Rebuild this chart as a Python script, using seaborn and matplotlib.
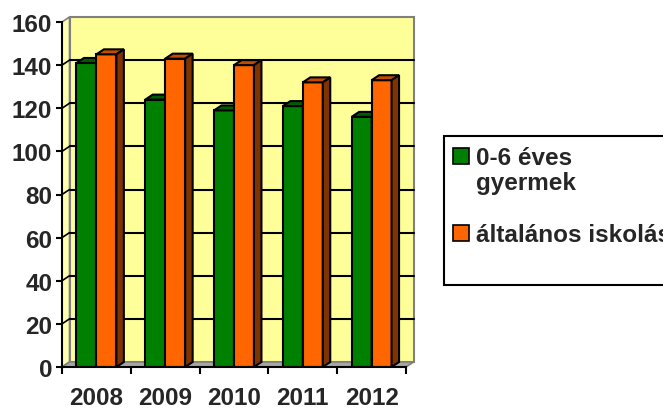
import numpy as np
import pandas as pd
import seaborn as sns
import matplotlib.pyplot as plt
from matplotlib.patches import Polygon, Rectangle

years = ['2008', '2009', '2010', '2011', '2012']
series = ['0-6 éves\ngyermek', 'általános iskolás']
gyermek = [141, 124, 119, 121, 116]
iskolas = [145, 143, 140, 132, 133]
yticks = [0, 20, 40, 60, 80, 100, 120, 140, 160]

front_cols = ['#008000', '#FF6600']
top_cols = ['#005C00', '#C04D00']
side_cols = ['#004D00', '#7F3300']

df = pd.DataFrame({
    'ev': years * 2,
    'sorozat': [series[0]] * 5 + [series[1]] * 5,
    'ertek': gyermek + iskolas,
})

sns.set_style('white')
plt.rcParams['font.family'] = ['Liberation Sans', 'DejaVu Sans']
plt.rcParams['font.weight'] = 'bold'
FS = 17.5

W, H = 663, 410
fig = plt.figure(figsize=(W / 100, H / 100), dpi=100)
L, R, B, T = 62, 406, 368, 23
ax = fig.add_axes([L / W, 1 - B / H, (R - L) / W, (B - T) / H])
ax.patch.set_visible(False)

sns.barplot(data=df, x='ev', y='ertek', hue='sorozat', palette=front_cols,
            width=0.58, edgecolor='black', linewidth=1.5, saturation=1,
            legend=False, ax=ax, zorder=3)
ax.set_xlim(-0.5, 4.5)
ax.set_ylim(0, 160)

# 3d depth offset (px -> data units)
dx = 7.5 / ((R - L) / 5.0)
dy = 5.0 / ((B - T) / 160.0)
x0, x1 = -0.5, 4.5

# back wall, side wall, floor
ax.add_patch(Rectangle((x0 + dx, dy), 5, 160, facecolor='#FFFF99',
                       edgecolor='#808080', lw=1.5, zorder=0, clip_on=False))
ax.add_patch(Polygon([(x0, 0), (x0, 160), (x0 + dx, 160 + dy), (x0 + dx, dy)],
                     facecolor='#FFFFB0', edgecolor='#808080', lw=1.2,
                     zorder=0.5, clip_on=False))
ax.add_patch(Polygon([(x0, 0), (x1, 0), (x1 + dx, dy), (x0 + dx, dy)],
                     facecolor='#A6A6A6', edgecolor='#808080', lw=1.2,
                     zorder=1, clip_on=False))
for v in yticks[1:-1]:
    ax.plot([x0 + dx, x1 + dx], [v + dy, v + dy], color='black', lw=1.5,
            zorder=0.8, clip_on=False)
    ax.plot([x0, x0 + dx], [v, v + dy], color='black', lw=1.2,
            zorder=0.8, clip_on=False)

# top and side faces of the bars
for i, bar in enumerate(ax.patches[:10]):
    k = i // 5
    x, w, h = bar.get_x(), bar.get_width(), bar.get_height()
    bar.set_zorder(3 + k)
    ax.add_patch(Polygon([(x, h), (x + w, h), (x + w + dx, h + dy), (x + dx, h + dy)],
                         facecolor=top_cols[k], edgecolor='black', lw=1.5,
                         zorder=3 + k, clip_on=False))
    ax.add_patch(Polygon([(x + w, 0), (x + w, h), (x + w + dx, h + dy), (x + w + dx, dy)],
                         facecolor=side_cols[k], edgecolor='black', lw=1.5,
                         zorder=3 + k, clip_on=False))

for s in ['top', 'right']:
    ax.spines[s].set_visible(False)
for s in ['left', 'bottom']:
    ax.spines[s].set_color('black')
    ax.spines[s].set_linewidth(1.5)
    ax.spines[s].set_zorder(6)

ax.set_yticks(yticks)
ax.set_yticklabels([str(v) for v in yticks])
ax.set_xticks(range(5))
ax.set_xticklabels(years)
ax.set_xticks(np.arange(-0.5, 5, 1), minor=True)
ax.tick_params(axis='y', direction='out', length=4, width=1.5, color='black',
               left=True, pad=3, labelsize=FS)
ax.tick_params(axis='x', which='major', length=0, pad=14, labelsize=FS)
ax.tick_params(axis='x', which='minor', direction='out', length=5, width=1.5,
               color='black', bottom=True)
for lab in ax.get_xticklabels() + ax.get_yticklabels():
    lab.set_fontweight('bold')
ax.set_xlabel('')
ax.set_ylabel('')
ax.grid(False)

# legend box
fig.add_artist(Rectangle((444 / W, 1 - 286 / H), 300 / W, 149 / H,
                         transform=fig.transFigure, facecolor='white',
                         edgecolor='black', lw=1.5))
sw = 16
for k, (yc, lab) in enumerate([(157, series[0]), (234, series[1])]):
    fig.add_artist(Rectangle((453 / W, 1 - (yc + sw / 2) / H), sw / W, sw / H,
                             transform=fig.transFigure, facecolor=front_cols[k],
                             edgecolor='black', lw=1.2))
    fig.text(476 / W, 1 - (yc - 10) / H, lab, ha='left', va='top',
             fontsize=FS, fontweight='bold', linespacing=1.1)

fig.savefig('out.png', dpi=100, facecolor='white')
